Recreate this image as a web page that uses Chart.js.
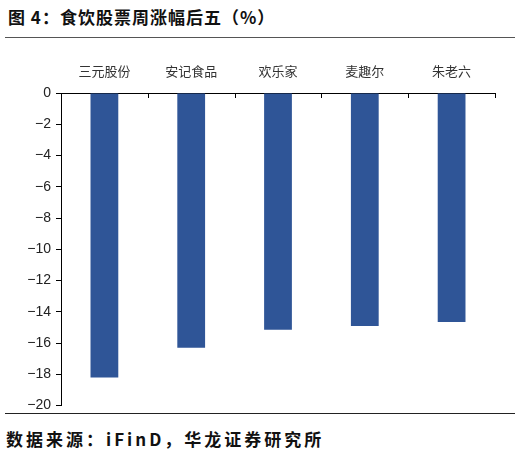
<!DOCTYPE html>
<html>
<head>
<meta charset="utf-8">
<script src="https://cdn.jsdelivr.net/npm/chart.js@4"></script>
<style>
  html, body { margin: 0; padding: 0; background: #fff; }
  body { width: 520px; height: 455px; position: relative; overflow: hidden; font-family: "Noto Sans CJK SC", sans-serif; }
  #title { position: absolute; left: 8px; top: 4px; font-size: 17px; font-weight: bold; color: #111; letter-spacing: 1px; }
  #rule1 { position: absolute; left: 5px; width: 510px; top: 37px; height: 0; border-top: 1.5px solid #555; }
  #rule2 { position: absolute; left: 5px; width: 510px; top: 413px; height: 0; border-top: 1.5px solid #222; }
  #source { position: absolute; left: 6px; top: 426px; font-size: 17px; font-weight: bold; color: #111; letter-spacing: 3px; }
  #wrap { position: absolute; left: 0; top: 40px; width: 520px; height: 379px; }
</style>
</head>
<body>
<div id="title">图 4：食饮股票周涨幅后五（%）</div>
<div id="rule1"></div>
<div id="wrap"><canvas id="grafico"></canvas></div>
<div id="rule2"></div>
<div id="source">数据来源：iFinD，华龙证券研究所</div>
<script>
'use strict';

const categories = ['三元股份', '安记食品', '欢乐家', '麦趣尔', '朱老六'];
const weeklyChange = [-18.2, -16.3, -15.15, -14.9, -14.65];
const yTicks = [0, -2, -4, -6, -8, -10, -12, -14, -16, -18, -20];

// short tick marks pointing down from the zero line, at category borders
const innerTicks = {
  id: 'innerTicks',
  afterDraw(chart) {
    const x = chart.scales.x;
    const ctx = chart.ctx;
    const top = chart.chartArea.top;
    ctx.save();
    ctx.strokeStyle = '#000';
    ctx.lineWidth = 1;
    for (let i = 0; i <= categories.length; i++) {
      const px = Math.round(x.getPixelForValue(i - 0.5)) + 0.5;
      ctx.beginPath();
      ctx.moveTo(px, top);
      ctx.lineTo(px, top + 5);
      ctx.stroke();
    }
    ctx.restore();
  }
};

new Chart(document.getElementById('grafico'), {
  type: 'bar',
  data: {
    labels: categories,
    datasets: [{
      data: weeklyChange,
      backgroundColor: '#2F5597',
      borderWidth: 0,
      categoryPercentage: 1,
      barPercentage: 0.32
    }]
  },
  options: {
    responsive: true,
    maintainAspectRatio: false,
    animation: false,
    layout: { padding: { left: 0, right: 25, top: 0, bottom: 0 } },
    plugins: { legend: { display: false }, tooltip: { enabled: false } },
    scales: {
      x: {
        position: 'top',
        grid: { display: false, drawTicks: false },
        border: { display: true, color: '#000', width: 1 },
        ticks: { color: '#333', padding: 14, font: { family: "'Noto Sans CJK SC', serif", size: 13 } },
        afterFit: s => { s.height = 53; }
      },
      y: {
        min: -20,
        max: 0,
        grid: { drawOnChartArea: false, drawTicks: true, tickLength: 5, color: '#000' },
        border: { display: true, color: '#000', width: 1 },
        afterBuildTicks: s => { s.ticks = yTicks.map(v => ({ value: v })); },
        ticks: {
          color: '#222',
          padding: 5,
          font: { family: "'Liberation Sans', Arial, sans-serif", size: 14 },
          callback: v => (v < 0 ? '\u2212' + Math.abs(v) : String(v))
        },
        afterFit: s => { s.width = 61; }
      }
    }
  },
  plugins: [innerTicks]
});
</script>
</body>
</html>
